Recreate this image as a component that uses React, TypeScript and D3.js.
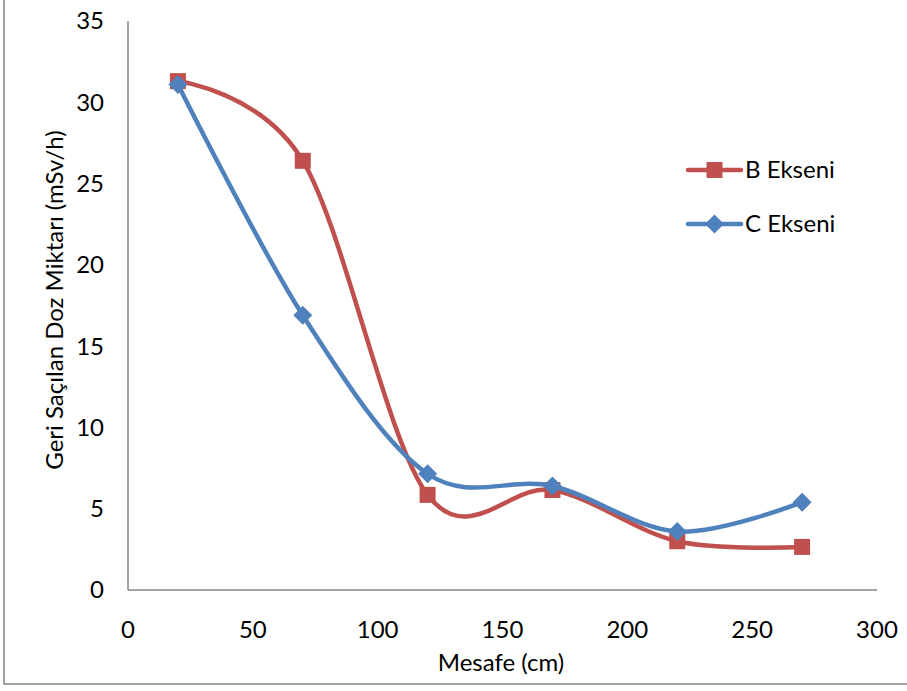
import React from "react";
import * as d3 from "d3";

const distances = [20, 70, 120, 170, 220, 270];
const bValues = [31.3, 26.4, 5.85, 6.15, 3.0, 2.65];
const cValues = [31.1, 16.9, 7.15, 6.4, 3.6, 5.4];
const xTicks = [0, 50, 100, 150, 200, 250, 300];
const yTicks = [0, 5, 10, 15, 20, 25, 30, 35];
const seriesNames = ["B Ekseni", "C Ekseni"];
const xTitle = "Mesafe (cm)";
const yTitle = "Geri Saçılan Doz Miktarı (mSv/h)";

const W = 907;
const H = 691;
const RED = "#C0504D";
const BLUE = "#4F81BD";
const FONT = "Lato, 'Open Sans', sans-serif";
const FS = 24;

export default function App() {
  const x = d3.scaleLinear().domain([0, 300]).range([128, 877]);
  const y = d3.scaleLinear().domain([0, 35]).range([590, 21]);
  const line = d3
    .line<[number, number]>()
    .x((d) => x(d[0]))
    .y((d) => y(d[1]))
    .curve(d3.curveCatmullRom.alpha(0));
  const bPts = distances.map((d, i) => [d, bValues[i]] as [number, number]);
  const cPts = distances.map((d, i) => [d, cValues[i]] as [number, number]);
  const sq = 16;
  const dm = 9.5;
  const diamond = (cx: number, cy: number) =>
    `M${cx},${cy - dm}L${cx + dm},${cy}L${cx},${cy + dm}L${cx - dm},${cy}Z`;

  return (
    <div style={{ position: "fixed", left: 0, top: 0 }}>
      <svg width={W} height={H} style={{ display: "block", background: "#fff" }}>
        <rect x={4} y={-10} width={W + 20} height={694} fill="#fff" stroke="#868686" strokeWidth={1.5} />
        {/* axes */}
        <line x1={x(0)} x2={x(0)} y1={y(35)} y2={y(0)} stroke="#868686" strokeWidth={1.5} />
        <line x1={x(0)} x2={x(300)} y1={y(0)} y2={y(0)} stroke="#868686" strokeWidth={1.5} />
        {yTicks.map((t) => (
          <text key={"y" + t} x={104} y={y(t)} dy="0.35em" textAnchor="end" fontFamily={FONT} fontSize={FS} fill="#000">
            {t}
          </text>
        ))}
        {xTicks.map((t) => (
          <text key={"x" + t} x={x(t)} y={630} dy="0.35em" textAnchor="middle" fontFamily={FONT} fontSize={FS} fill="#000">
            {t}
          </text>
        ))}
        <text x={501} y={663} dy="0.35em" textAnchor="middle" fontFamily={FONT} fontSize={FS} fill="#000">
          {xTitle}
        </text>
        <text
          transform={`translate(55,300) rotate(-90)`}
          dy="0.35em"
          textAnchor="middle"
          fontFamily={FONT}
          fontSize={FS}
          fill="#000"
        >
          {yTitle}
        </text>
        {/* series */}
        <path d={line(bPts) || ""} fill="none" stroke={RED} strokeWidth={4.5} strokeLinecap="round" />
        {bPts.map((p, i) => (
          <rect key={"b" + i} x={x(p[0]) - sq / 2} y={y(p[1]) - sq / 2} width={sq} height={sq} fill={RED} />
        ))}
        <path d={line(cPts) || ""} fill="none" stroke={BLUE} strokeWidth={4.5} strokeLinecap="round" />
        {cPts.map((p, i) => (
          <path key={"c" + i} d={diamond(x(p[0]), y(p[1]))} fill={BLUE} />
        ))}
        {/* legend */}
        <line x1={688} x2={741} y1={170} y2={170} stroke={RED} strokeWidth={4.5} strokeLinecap="round" />
        <rect x={714.5 - sq / 2} y={170 - sq / 2} width={sq} height={sq} fill={RED} />
        <text x={745} y={170} dy="0.35em" fontFamily={FONT} fontSize={FS} fill="#000">
          {seriesNames[0]}
        </text>
        <line x1={688} x2={741} y1={224} y2={224} stroke={BLUE} strokeWidth={4.5} strokeLinecap="round" />
        <path d={diamond(714.5, 224)} fill={BLUE} />
        <text x={745} y={224} dy="0.35em" fontFamily={FONT} fontSize={FS} fill="#000">
          {seriesNames[1]}
        </text>
      </svg>
    </div>
  );
}
